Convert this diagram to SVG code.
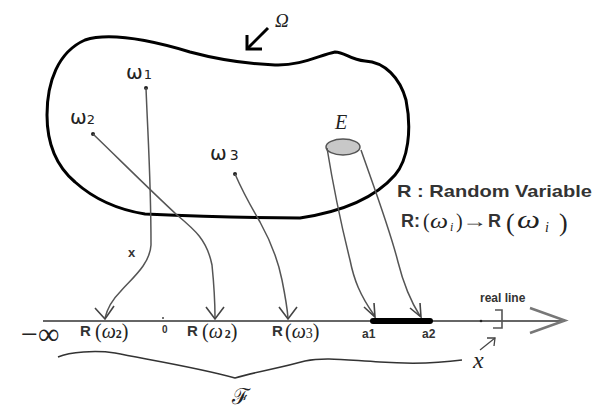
<svg xmlns="http://www.w3.org/2000/svg" width="595" height="419" viewBox="0 0 595 419">
<style>
.conn{fill:none;stroke:#555;stroke-width:1.5}
.head{fill:none;stroke:#444;stroke-width:1.6}
.bold{font-family:"Liberation Sans",Arial,sans-serif;font-weight:bold;fill:#333}
.serif{font-family:"Liberation Serif","DejaVu Serif",serif;fill:#222}
.it{font-family:"Liberation Serif","DejaVu Serif",serif;font-style:italic;fill:#222}
.om{font-family:"DejaVu Sans",sans-serif;fill:#222}
</style>
<rect width="595" height="419" fill="#fff"/>
<g id="omega-set">
<path d="M145,214 C120,210 95,200 75,182 C55,165 47,140 47,115 C47,82 58,52 85,40 C110,32 150,40 190,52 C220,60 250,64 275,65 C300,66 320,55 335,52 C345,52 350,60 365,61 C385,62 400,78 406,100 C412,130 408,160 395,175 C375,198 340,212 300,218 C250,218 190,216 145,214 Z" fill="none" stroke="#000" stroke-width="3"/>
<text class="it" x="275" y="27" font-size="19">Ω</text>
<path d="M268,28 L248,48" stroke="#000" stroke-width="3" fill="none"/>
<path d="M262,49 L247,49 L247,35" stroke="#000" stroke-width="3" fill="none"/>
</g>
<g id="w1">
<text class="om" x="126" y="79" font-size="20">ω<tspan font-size="13" dx="1">1</tspan></text>
<circle cx="146" cy="88" r="2" fill="#222"/>
</g>
<g id="w2">
<text class="om" x="70" y="124" font-size="20">ω<tspan font-size="13">2</tspan></text>
<circle cx="93" cy="134" r="2" fill="#222"/>
</g>
<g id="w3">
<text class="om" x="210" y="160" font-size="20">ω<tspan font-size="14" dx="3">3</tspan></text>
<circle cx="235" cy="174" r="2" fill="#222"/>
</g>
<g id="event-E">
<text class="it" x="335" y="129" font-size="20">E</text>
<ellipse cx="343" cy="147" rx="17" ry="8" fill="#c8c8c8" stroke="#555" stroke-width="1.5"/>
</g>
<g id="connectors">
<path class="conn" d="M146,88 C148,140 151,180 151,245 C150,265 130,280 120,292 C112,300 107,310 105,318"/>
<path class="head" d="M95,308 L105,319 L114,306"/>
<text class="bold" x="128" y="257" font-size="13">x</text>
<path class="conn" d="M93,134 C120,160 150,190 177,215 C195,230 207,240 212,265 C214,285 215,300 215,318"/>
<path class="head" d="M206,307 L215,319 L224,307"/>
<path class="conn" d="M235,174 C242,190 250,205 260,222 C270,240 278,260 282,280 C285,295 287,305 288,318"/>
<path class="head" d="M279,307 L288,319 L297,307"/>
<path class="conn" d="M327,148 C333,185 340,220 350,260 C354,280 360,295 374,315"/>
<path class="head" d="M364,307 L375,317 L374,303"/>
<path class="conn" d="M361,150 C375,190 390,230 398,262 C403,282 410,300 420,316"/>
<path class="head" d="M410,308 L421,317 L420,303"/>
<path d="M480,350 L495,338" stroke="#444" stroke-width="1.3" fill="none"/>
<path d="M487,338 L495,338 L494,346" stroke="#444" stroke-width="1.3" fill="none"/>
</g>
<g id="real-line">
<path d="M43,321 L563,321" stroke="#666" stroke-width="2" fill="none"/>
<path d="M530,308 L565,320.5 L530,333" stroke="#777" stroke-width="2.5" fill="none"/>
<path d="M373,321 L430,321" stroke="#000" stroke-width="6" stroke-linecap="round"/>
<path d="M495,310 L502,310 L502,328 L493,328" stroke="#555" stroke-width="1.6" fill="none"/>
<circle cx="481" cy="321" r="1.3" fill="#222"/>
<circle cx="163" cy="318" r="1" fill="#444"/>
<text class="serif" x="21" y="344" font-size="30">−∞</text>
<text class="bold" x="80" y="336" font-size="15">R</text>
<text class="serif" x="95" y="338" font-size="20">(<tspan font-style="italic">ω</tspan><tspan font-size="12" font-weight="bold">2</tspan>)</text>
<text class="bold" x="162" y="333" font-size="10">0</text>
<text class="bold" x="187" y="336" font-size="15">R</text>
<text class="serif" x="202" y="338" font-size="20">(<tspan font-style="italic">ω</tspan><tspan font-size="12" font-weight="bold" dx="2">2</tspan>)</text>
<text class="bold" x="272" y="336" font-size="15">R</text>
<text class="serif" x="285" y="338" font-size="20">(<tspan font-style="italic">ω</tspan><tspan font-size="14">3</tspan>)</text>
<text class="bold" x="362" y="338" font-size="12">a1</text>
<text class="bold" x="422" y="338" font-size="12">a2</text>
<text class="bold" x="480" y="302" font-size="12">real line</text>
<text class="it" x="473" y="368" font-size="24">x</text>
</g>
<g id="sigma-field">
<path d="M58,357 C70,352 95,350 115,353 C150,360 200,368 235,378 C255,372 280,368 305,361 C325,357 345,360 380,362 C410,364 440,363 462,360" fill="none" stroke="#333" stroke-width="1.5"/>
<text x="232" y="404" font-size="22" font-family="DejaVu Serif,serif" fill="#222">ℱ</text>
</g>
<g id="legend">
<text class="bold" x="397" y="197" font-size="17" textLength="195" lengthAdjust="spacingAndGlyphs">R : Random Variable</text>
<text class="bold" x="401" y="227" font-size="18">R:</text>
<text class="serif" x="423" y="228" font-size="20">(</text>
<text class="it" x="430" y="228" font-size="22" textLength="18" lengthAdjust="spacingAndGlyphs">ω</text>
<text class="it" x="450" y="231" font-size="12">i</text>
<text class="serif" x="456" y="228" font-size="20">)</text>
<text class="bold" x="462" y="227" font-size="18" textLength="25" lengthAdjust="spacingAndGlyphs">→</text>
<text class="bold" x="488" y="227" font-size="18">R</text>
<text class="serif" x="506" y="231" font-size="26">(</text>
<text class="it" x="517" y="228" font-size="26" textLength="23" lengthAdjust="spacingAndGlyphs">ω</text>
<text class="it" x="545" y="232" font-size="14">i</text>
<text class="serif" x="559" y="231" font-size="26">)</text>
</g>
</svg>
